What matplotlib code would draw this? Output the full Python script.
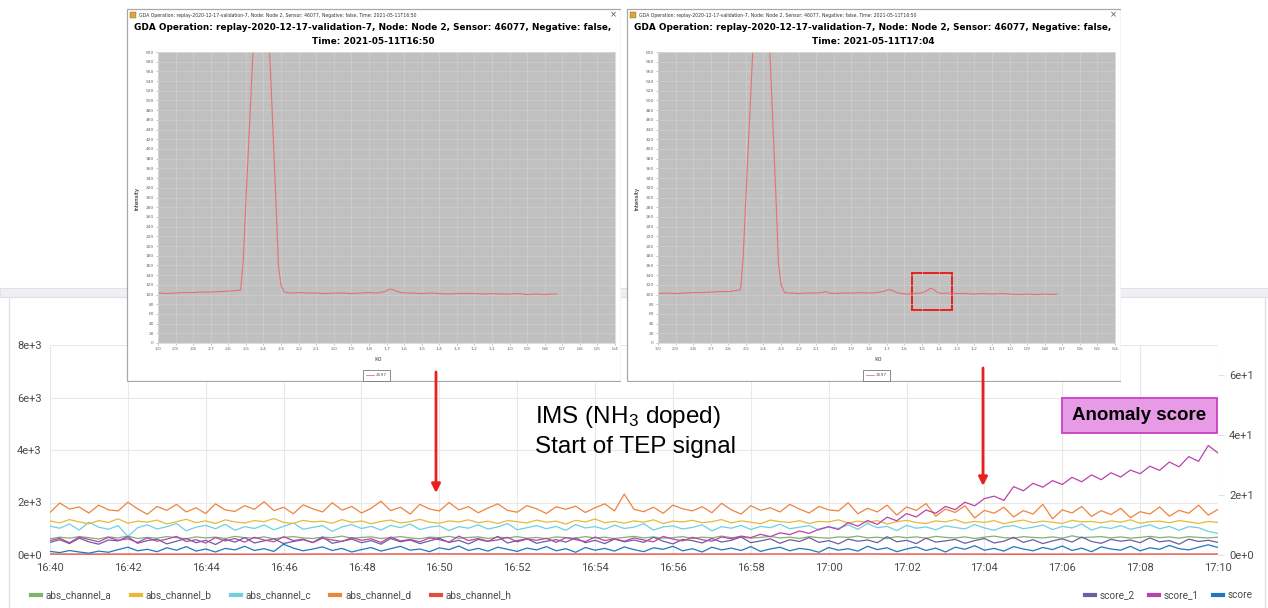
import numpy as np
import pandas as pd
import matplotlib
matplotlib.use('Agg')
import matplotlib.pyplot as plt
import matplotlib.dates as mdates
from matplotlib.patches import Rectangle
from matplotlib.lines import Line2D

plt.rcParams['mathtext.fontset'] = 'custom'
plt.rcParams['mathtext.rm'] = 'Liberation Sans'
plt.rcParams['mathtext.it'] = 'Liberation Sans'

# ---- main time series (15 s steps, 16:40 -> 17:10) ----
abs_channel_d = [
    1620, 1980, 1750, 1830, 1600, 1900, 1720, 1680, 2010, 1760,
    1550, 1850, 1700, 1930, 1640, 1800, 1580, 1950, 1720, 1660,
    1880, 1740, 2030, 1690, 1820, 1570, 1910, 1760, 1640, 1990,
    1710, 1850, 1600, 1780, 2050, 1690, 1820, 1560, 1930, 1750,
    1680, 2000, 1720, 1840, 1610, 1790, 1950, 1700, 1630, 1880,
    1760, 1580, 1840, 1740, 1860, 1620, 1800, 1950, 1680, 2320,
    1740, 1650, 1820, 1590, 1900, 1760, 1680, 1840, 1610, 1970,
    1720, 1560, 1880, 1700, 1800, 1640, 1930, 1750, 1600, 1850,
    1720, 1680, 1990, 1570, 1780, 1640, 1900, 1520, 1830, 1700,
    1960, 1480, 1750, 1620, 1880, 1410, 1700, 1590, 1820, 1450,
    1690, 1560, 1930, 1380, 1720, 1600, 1850, 1470, 1690, 1540,
    1780, 1420, 1650, 1560, 1830, 1480, 1700, 1590, 1900, 1520, 1740]
abs_channel_b = [
    1300, 1220, 1350, 1260, 1190, 1310, 1240, 1380, 1210, 1290,
    1250, 1330, 1180, 1270, 1360, 1230, 1300, 1200, 1340, 1260,
    1220, 1310, 1270, 1390, 1240, 1200, 1320, 1260, 1290, 1210,
    1350, 1240, 1300, 1190, 1280, 1330, 1220, 1270, 1360, 1250,
    1210, 1300, 1260, 1340, 1230, 1290, 1200, 1310, 1270, 1220,
    1330, 1250, 1290, 1180, 1320, 1260, 1370, 1230, 1280, 1210,
    1300, 1250, 1340, 1200, 1290, 1260, 1320, 1230, 1270, 1350,
    1220, 1300, 1250, 1190, 1330, 1270, 1240, 1310, 1200, 1280,
    1260, 1340, 1220, 1290, 1250, 1310, 1180, 1270, 1320, 1240,
    1200, 1300, 1260, 1350, 1220, 1280, 1240, 1310, 1190, 1270,
    1330, 1230, 1290, 1250, 1200, 1320, 1260, 1280, 1220, 1300,
    1250, 1340, 1210, 1270, 1290, 1230, 1310, 1260, 1200, 1280, 1240]
abs_channel_c = [
    1100, 1020, 1180, 950, 1250, 1060, 980, 1120, 700, 1040,
    1150, 990, 1080, 1200, 920, 1060, 1130, 1000, 1170, 940,
    1080, 1010, 1140, 960, 1090, 1220, 980, 1050, 1120, 900,
    1070, 1160, 1010, 1090, 950, 1130, 1040, 1180, 970, 1060,
    1110, 930, 1080, 1020, 1150, 990, 1070, 1200, 960, 1040,
    1120, 1000, 1090, 940, 1160, 1030, 1080, 980, 1140, 1010,
    1060, 1190, 950, 1070, 1110, 990, 1050, 1150, 920, 1080,
    1020, 1130, 970, 1090, 1040, 1170, 1000, 1060, 1120, 950,
    1080, 1010, 1150, 980, 1200, 1040, 1090, 930, 1130, 1020,
    1070, 960, 1110, 1050, 990, 1160, 1030, 940, 1080, 1120,
    1000, 1060, 1140, 970, 1090, 1030, 1180, 950, 1070, 1010,
    1120, 980, 1060, 1150, 1000, 1090, 940, 1080, 1040, 900, 820]
abs_channel_a = [
    620, 680, 640, 700, 660, 610, 690, 650, 720, 630,
    670, 640, 700, 660, 620, 690, 650, 680, 630, 710,
    660, 640, 690, 620, 670, 700, 650, 630, 680, 660,
    720, 640, 670, 690, 630, 660, 700, 650, 620, 680,
    660, 710, 640, 670, 690, 630, 680, 650, 700, 640,
    670, 620, 690, 660, 640, 700, 650, 680, 630, 670,
    710, 650, 690, 640, 660, 700, 630, 680, 650, 720,
    660, 690, 640, 670, 710, 650, 680, 630, 700, 660,
    640, 690, 670, 720, 650, 680, 630, 700, 660, 690,
    640, 710, 670, 650, 690, 630, 680, 720, 660, 640,
    700, 670, 650, 690, 640, 730, 660, 680, 700, 650,
    690, 640, 670, 710, 660, 690, 640, 700, 670, 650, 680]
abs_channel_h = [35, 30, 40, 33, 38, 31, 36]
score_2 = [
    4.2, 5.1, 3.8, 5.6, 4.4, 3.6, 5.0, 4.7, 6.1, 3.9,
    4.8, 5.3, 3.7, 4.6, 5.5, 4.1, 4.9, 3.5, 5.2, 4.3,
    5.8, 4.0, 4.7, 5.4, 3.8, 4.5, 5.1, 4.2, 6.0, 3.9,
    4.6, 5.3, 4.1, 4.8, 3.6, 5.5, 4.4, 5.0, 3.8, 4.7,
    5.6, 4.2, 4.9, 3.7, 5.2, 4.5, 6.2, 4.0, 4.8, 5.4,
    3.9, 4.6, 5.1, 4.3, 5.7, 4.1, 4.9, 3.8, 5.3, 4.4,
    5.0, 4.2, 5.9, 4.6, 3.7, 5.2, 4.8, 4.0, 5.5, 4.3,
    4.9, 6.0, 4.1, 4.7, 5.4, 3.9, 5.1, 4.5, 5.8, 4.2,
    4.8, 3.7, 5.3, 4.6, 5.0, 4.1, 6.1, 4.4, 4.9, 3.8,
    5.6, 4.3, 4.7, 5.2, 3.9, 4.8, 5.5, 4.0, 4.6, 5.9,
    4.2, 5.1, 3.8, 4.7, 5.4, 4.3, 6.0, 4.5, 3.9, 5.2,
    4.6, 5.0, 4.1, 5.7, 4.4, 4.8, 3.6, 5.3, 4.5, 4.9, 4.2]
score_1 = [
    4.8, 5.6, 4.1, 6.0, 5.2, 4.4, 5.9, 4.9, 5.4, 4.2,
    5.7, 4.6, 5.3, 6.2, 4.5, 5.1, 4.0, 5.8, 4.7, 5.5,
    4.3, 5.9, 5.0, 4.4, 6.1, 4.8, 5.3, 4.1, 5.6, 5.0,
    4.5, 5.8, 4.9, 5.4, 4.2, 6.0, 4.7, 5.2, 4.4, 5.7,
    5.1, 4.3, 6.3, 4.8, 5.5, 4.6, 5.0, 5.9, 4.4, 5.3,
    4.9, 5.6, 4.2, 5.8, 5.1, 4.5, 6.0, 4.8, 5.4, 4.6,
    5.7, 5.0, 4.4, 6.2, 5.3, 4.7, 5.9, 5.1, 4.6, 6.0,
    5.4, 6.3, 5.8, 6.9, 6.1, 7.4, 6.8, 8.0, 7.2, 8.6,
    9.4, 8.5, 10.8, 9.6, 11.5, 10.2, 12.6, 11.4, 13.8, 12.7,
    15.0, 13.9, 16.2, 15.1, 17.6, 16.4, 18.8, 19.6, 18.2, 22.8,
    21.4, 23.9, 22.6, 24.8, 23.5, 25.9, 24.4, 26.7, 25.1, 27.4,
    26.0, 28.3, 27.1, 29.6, 28.2, 31.0, 29.4, 32.8, 31.2, 36.5, 34.0]
score = [
    1.2, 0.8, 1.5, 1.0, 0.6, 1.3, 0.9, 1.8, 2.6, 1.4,
    1.9, 1.1, 2.4, 1.6, 2.8, 1.3, 2.0, 1.0, 2.2, 1.7,
    2.9, 1.5, 2.1, 1.2, 3.6, 2.3, 1.4, 2.0, 2.7, 1.5,
    2.2, 1.0, 1.8, 2.5, 1.3, 2.1, 2.9, 1.6, 2.0, 1.1,
    2.4, 1.8, 3.0, 1.5, 2.2, 1.3, 2.6, 1.9, 1.2, 2.3,
    1.7, 2.8, 1.4, 2.1, 0.9, 2.5, 1.6, 2.2, 1.3, 2.7,
    1.8, 1.1, 2.4, 1.9, 2.9, 1.4, 2.1, 1.0, 2.6, 1.7,
    2.3, 1.5, 2.8, 1.2, 2.0, 2.6, 1.4, 2.2, 1.8, 0.9,
    2.5, 1.6, 2.1, 1.3, 2.9, 1.8, 2.4, 1.1, 2.0, 2.7,
    1.5, 2.3, 1.0, 2.6, 1.9, 3.1, 1.6, 2.2, 1.3, 2.8,
    2.0, 1.4, 2.5, 1.8, 3.0, 1.5, 2.3, 1.1, 2.7, 2.0,
    1.6, 2.9, 1.4, 2.4, 1.9, 3.2, 2.1, 1.7, 2.6, 3.4, 2.5]

left_ticks = [0, 2000, 4000, 6000, 8000]
left_labels = ['0e+0', '2e+3', '4e+3', '6e+3', '8e+3']
right_ticks = [0, 20, 40, 60]
right_labels = ['0e+0', '2e+1', '4e+1', '6e+1']

# ---- IMS spectra shown in the two screenshots ----
k0_1650 = [3.00, 2.95, 2.90, 2.85, 2.80, 2.75, 2.70, 2.65, 2.60, 2.56, 2.53, 2.515,
           2.50, 2.47, 2.415, 2.36, 2.33, 2.315, 2.30, 2.28, 2.25, 2.20, 2.15, 2.10,
           2.05, 2.00, 1.95, 1.90, 1.85, 1.80, 1.75, 1.71, 1.69, 1.67, 1.65, 1.62,
           1.58, 1.55, 1.50, 1.45, 1.40, 1.35, 1.30, 1.25, 1.20, 1.15, 1.10, 1.05,
           1.00, 0.95, 0.90, 0.85, 0.80, 0.75, 0.73]
int_1650 = [103, 102, 103, 104, 104, 105, 105, 106, 107, 108, 109, 170,
            290, 520, 950, 560, 300, 160, 118, 105, 103, 104, 103, 103,
            102, 103, 103, 102, 103, 104, 103, 106, 110, 111, 108, 104,
            103, 103, 102, 103, 102, 101, 102, 102, 102, 101, 102, 101,
            101, 102, 100, 101, 100, 101, 101]
k0_1704 = [3.00, 2.95, 2.90, 2.85, 2.80, 2.75, 2.70, 2.65, 2.60, 2.56, 2.53, 2.515,
           2.50, 2.47, 2.415, 2.36, 2.33, 2.315, 2.30, 2.28, 2.25, 2.20, 2.15, 2.10,
           2.07, 2.05, 2.02, 2.00, 1.95, 1.90, 1.85, 1.80, 1.75, 1.71, 1.69, 1.67,
           1.65, 1.62, 1.58, 1.55, 1.50, 1.47, 1.45, 1.43, 1.41, 1.38, 1.35, 1.30,
           1.25, 1.20, 1.15, 1.10, 1.05, 1.00, 0.95, 0.90, 0.85, 0.80, 0.75, 0.73]
int_1704 = [102, 103, 102, 103, 104, 104, 105, 106, 106, 108, 110, 180,
            300, 530, 960, 570, 310, 165, 120, 104, 103, 102, 103, 103,
            104, 106, 103, 102, 103, 103, 104, 103, 104, 107, 110, 109,
            105, 102, 101, 102, 103, 108, 113, 110, 104, 102, 103, 102,
            102, 101, 102, 101, 102, 101, 100, 101, 100, 101, 100, 101]

W, H = 1268, 608


def box(x0, y0, x1, y1):
    return [x0 / W, 1 - y1 / H, (x1 - x0) / W, (y1 - y0) / H]


fig = plt.figure(figsize=(W / 100, H / 100), dpi=100)

# page / panel background
bg = fig.add_axes([0, 0, 1, 1])
bg.axis('off')
bg.set_xlim(0, W)
bg.set_ylim(H, 0)
bg.add_patch(Rectangle((0, 288), W, 9, fc='#eef0f3', ec='#dfe1e5', lw=0.8))
bg.add_patch(Rectangle((9, 297), 1256, 320, fc='white', ec='#dfe1e5', lw=1))

# ---- grafana style chart ----
ax = fig.add_axes(box(50, 345, 1218, 555))
ax.set_facecolor('none')
t = pd.date_range('2021-05-11 16:40', '2021-05-11 17:10', periods=len(abs_channel_d))
t_h = pd.date_range('2021-05-11 16:40', '2021-05-11 17:10', periods=len(abs_channel_h))

colors = {'a': '#7EB26D', 'b': '#EAB839', 'c': '#6ED0E0', 'd': '#EF843C',
          'h': '#E24D42', 'score_2': '#705DA0', 'score_1': '#BA43A9', 'score': '#1F78C1'}

ax.plot(t_h, abs_channel_h, color=colors['h'], lw=1)
ax.plot(t, abs_channel_a, color=colors['a'], lw=0.9)
ax.plot(t, abs_channel_c, color=colors['c'], lw=0.9)
ax.plot(t, abs_channel_b, color=colors['b'], lw=0.9)
ax.plot(t, abs_channel_d, color=colors['d'], lw=0.9)
ax.set_ylim(0, 8000)
ax.set_xlim(t[0], t[-1])
ax.set_yticks(left_ticks)
ax.set_yticklabels(left_labels)
ax.xaxis.set_major_locator(mdates.MinuteLocator(byminute=range(0, 60, 2)))
ax.xaxis.set_major_formatter(mdates.DateFormatter('%H:%M'))
ax.grid(True, color='#e8e8e8', lw=0.8)
for s in ax.spines.values():
    s.set_visible(False)
ax.tick_params(length=0, labelsize=8, labelcolor='#4a4a4a', pad=6)
for lab in ax.get_xticklabels() + ax.get_yticklabels():
    lab.set_family('Roboto')

ax2 = ax.twinx()
ax2.plot(t, score, color=colors['score'], lw=0.9)
ax2.plot(t, score_2, color=colors['score_2'], lw=0.9)
ax2.plot(t, score_1, color=colors['score_1'], lw=0.9)
ax2.set_ylim(0, 70)
ax2.set_yticks(right_ticks)
ax2.set_yticklabels(right_labels)
for s in ax2.spines.values():
    s.set_visible(False)
ax2.tick_params(length=4, color='#e0e0e0', labelsize=8, labelcolor='#4a4a4a', pad=4)
for lab in ax2.get_yticklabels():
    lab.set_family('Roboto')

leg_l = [Line2D([], [], color=colors[k], lw=3) for k in ['a', 'b', 'c', 'd', 'h']]
fig.legend(leg_l, ['abs_channel_a', 'abs_channel_b', 'abs_channel_c', 'abs_channel_d', 'abs_channel_h'],
           loc='center left', bbox_to_anchor=(22 / W, 1 - 595 / H), ncol=5, frameon=False,
           prop={'family': 'Roboto', 'size': 7.2}, handlelength=1.0, handletextpad=0.5,
           columnspacing=1.9, labelcolor='#4a4a4a')
leg_r = [Line2D([], [], color=colors[k], lw=3) for k in ['score_2', 'score_1', 'score']]
fig.legend(leg_r, ['score_2', 'score_1', 'score'],
           loc='center right', bbox_to_anchor=(1262 / W, 1 - 595 / H), ncol=3, frameon=False,
           prop={'family': 'Roboto', 'size': 7.2}, handlelength=1.0, handletextpad=0.5,
           columnspacing=1.4, labelcolor='#4a4a4a')


# ---- the two GDA screenshots ----
def gda_window(x0, when, k0, inten, mark=False):
    win = fig.add_axes(box(x0, 8, x0 + 495, 382))
    win.set_xlim(0, 495)
    win.set_ylim(374, 0)
    win.axis('off')
    win.add_patch(Rectangle((0.5, 0.5), 494, 373, fc='white', ec='#a8a8a8', lw=0.9))
    win.text(13, 7, 'GDA Operation: replay-2020-12-17-validation-7, Node: Node 2, Sensor: 46077, '
             'Negative: false, Time: 2021-05-11T16:50', fontsize=3.3, va='center', color='#333333')
    win.add_patch(Rectangle((4, 4), 6, 6, fc='#d9a441', ec='#8a6a20', lw=0.3))
    win.text(487, 7, '×', fontsize=6, va='center', ha='center', color='#555555')
    win.text(247, 20, 'GDA Operation: replay-2020-12-17-validation-7, Node: Node 2, Sensor: 46077, '
             'Negative: false,', fontsize=6.4, fontweight='bold', ha='center', va='center')
    win.text(247, 33, f'Time: 2021-05-11T{when}', fontsize=6.4, fontweight='bold',
             ha='center', va='center')
    win.text(11, 190, 'Intensity', fontsize=3.8, rotation=90, ha='center', va='center')
    win.text(252, 352, 'K0', fontsize=4.2, ha='center', va='center', color='#444444')
    win.add_patch(Rectangle((237, 362), 27, 11, fc='white', ec='#777777', lw=0.6))
    win.plot([240, 248], [367.5, 367.5], color='#e8777a', lw=0.6)
    win.text(250, 367.5, '2597', fontsize=3.2, va='center', color='#555555')

    p = fig.add_axes(box(x0 + 32, 52, x0 + 489, 343))
    p.set_facecolor('#c0c0c0')
    p.plot(k0, inten, color='#ea6f72', lw=0.8)
    p.set_xlim(3.0, 0.4)
    p.set_ylim(0, 600)
    xt = [round(v / 10, 1) for v in range(30, 3, -1)]
    p.set_xticks(xt)
    p.set_xticklabels([f'{v:.1f}'.replace('.', ',') for v in xt])
    p.set_yticks(range(0, 601, 20))
    p.grid(True, color='#d2d2d2', lw=0.4)
    p.tick_params(labelsize=3.2, labelcolor='#666666', length=1.5, width=0.4,
                  color='#999999', pad=1.5)
    for s in p.spines.values():
        s.set_color('#d8d8d8')
        s.set_linewidth(0.6)
    if mark:
        p.add_patch(Rectangle((1.325, 68), 0.23, 76, fc='none', ec='#e8211f', lw=1.4))


gda_window(126, '16:50', k0_1650, int_1650)
gda_window(626, '17:04', k0_1704, int_1704, mark=True)

# ---- annotations on top ----
ov = fig.add_axes([0, 0, 1, 1])
ov.axis('off')
ov.set_xlim(0, W)
ov.set_ylim(H, 0)
arrow = dict(arrowstyle='-|>', color='#e8211f', lw=2, mutation_scale=13, shrinkA=0, shrinkB=0)
ov.annotate('', xy=(436, 493), xytext=(436, 372), arrowprops=arrow)
ov.annotate('', xy=(983, 486), xytext=(983, 368), arrowprops=arrow)
ov.text(535, 423, 'IMS (NH$_3$ doped)', fontsize=17.5, family='Liberation Sans', va='baseline')
ov.text(535, 453, 'Start of TEP signal', fontsize=17.5, family='Liberation Sans', va='baseline')
ov.add_patch(Rectangle((1062, 398), 155, 35, fc='#e79be6', ec='#c73fc6', lw=1.3))
ov.text(1139.5, 416, 'Anomaly score', fontsize=13.5, fontweight='bold',
        family='Liberation Sans', ha='center', va='center')

fig.savefig('out.png', dpi=100)
